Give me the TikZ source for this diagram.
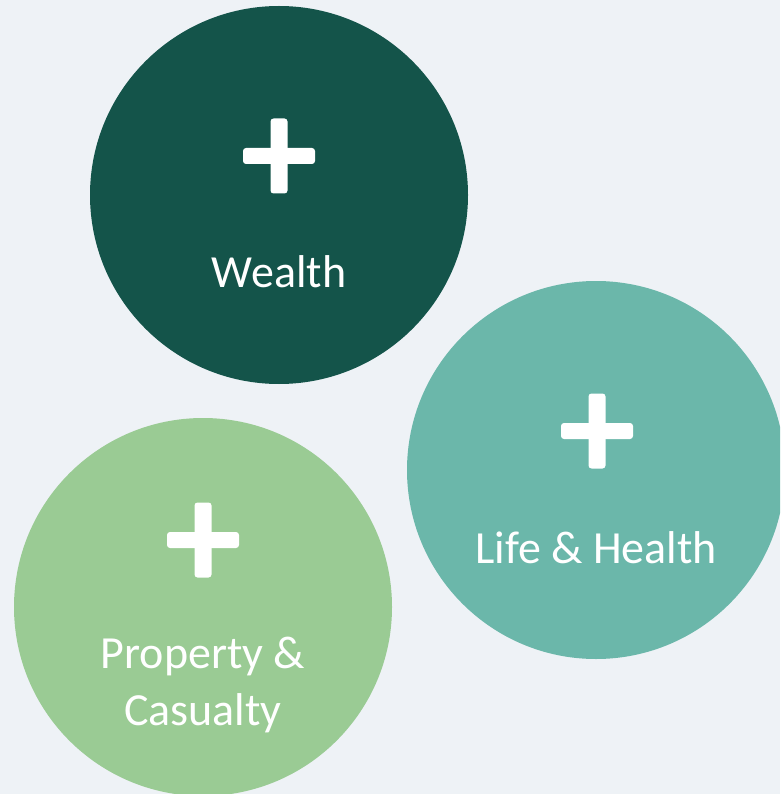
\documentclass[tikz,border=0pt]{standalone}
\usepackage{fontspec}
\setmainfont{Carlito}
\definecolor{paper}{HTML}{EEF2F6}
\definecolor{wealthgreen}{HTML}{14544A}
\definecolor{lifeteal}{HTML}{6BB7AA}
\definecolor{propgreen}{HTML}{9ACB94}
\tikzset{
  disc/.style={circle,minimum size=378pt,inner sep=0pt},
  hbar/.style={rectangle,fill=white,rounded corners=3pt,minimum width=72pt,minimum height=16pt,inner sep=0pt},
  vbar/.style={rectangle,fill=white,rounded corners=3pt,minimum width=17pt,minimum height=75pt,inner sep=0pt},
  lbl/.style={text=white,font=\fontsize{46}{57}\selectfont,align=center,anchor=base,inner sep=0pt}
}
\begin{document}
\begin{tikzpicture}[x=1pt,y=-1pt]
    \useasboundingbox (0,0) rectangle (780,794);
    \clip (0,0) rectangle (780,794);
    \fill[paper] (0,0) rectangle (780,794);
    % the three circles
    \node[disc,fill=wealthgreen] (wealth) at (279,195) {};
    \node[disc,fill=lifeteal] (life) at (596,470) {};
    \node[disc,fill=propgreen] (prop) at (203,607) {};
    % plus signs
    \node[hbar] (wealth-h) at (279,156) {};
    \node[vbar] (wealth-v) at (279,156) {};
    \node[hbar] (life-h) at (597,431) {};
    \node[vbar] (life-v) at (597,431) {};
    \node[hbar] (prop-h) at (203,540) {};
    \node[vbar] (prop-v) at (203,540) {};
    % labels (base = last line)
    \node[lbl] (wealth-t) at (279,287) {Wealth};
    \node[lbl] (life-t) at (596,563) {Life \& Health};
    \node[lbl] (prop-t) at (203,725) {Property \&\\Casualty};
\end{tikzpicture}
\end{document}
